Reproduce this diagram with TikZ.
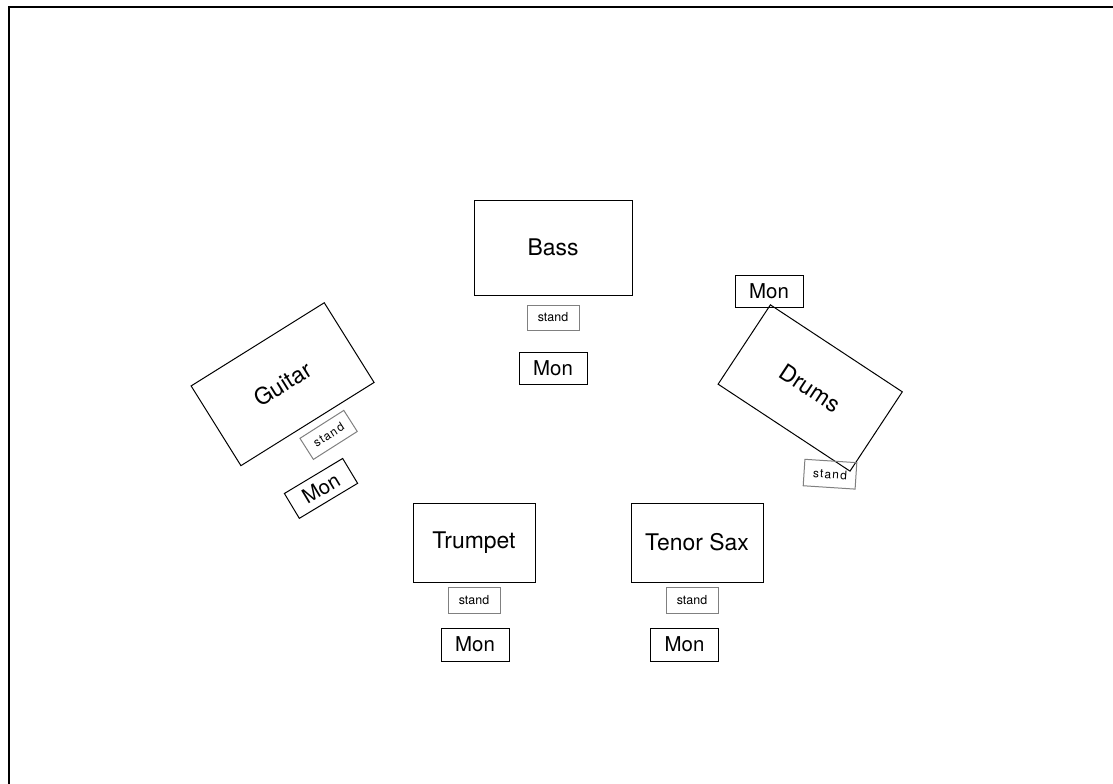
\documentclass[tikz,border=0pt]{standalone}
\usepackage{fontspec}
\setmainfont{TeX Gyre Heros}
\usetikzlibrary{positioning}

\begin{document}
\begin{tikzpicture}[x=1bp, y=-1bp,
    instr/.style={draw, line width=1bp, inner sep=0pt, minimum width=158bp,
      minimum height=95bp, font=\fontsize{23}{27}\selectfont},
    standbox/.style={draw=gray, line width=1bp, inner sep=0pt, minimum width=52bp,
      minimum height=25bp, font=\fontsize{12.5}{15}\selectfont},
    wide/.style={font=\fontsize{12}{15}\selectfont\addfontfeature{LetterSpace=10}},
    mon/.style={draw, line width=1bp, inner sep=0pt, minimum width=68bp,
      minimum height=32bp, font=\fontsize{20.5}{24}\selectfont}]
    \useasboundingbox (0,0) rectangle (1113,784);
    \draw[line width=2.5bp] (9,784) -- (9,7) -- (1113,7);
    % centre
    \node [instr]                          (bass)        at (553,247.5) {Bass};
    \node [standbox]                       (bassstand)   at (553,317.5) {stand};
    \node [mon]                            (bassmon)     at (553,368)   {Mon};
    % front
    \node [instr, minimum width=122bp, minimum height=79bp] (trumpet) at (474,542.5) {Trumpet};
    \node [standbox, minimum height=26bp]  (trumpetstand) at (474,600)  {stand};
    \node [mon, minimum height=33bp]       (trumpetmon)  at (475,644.5) {Mon};
    \node [instr, minimum width=132bp, minimum height=79bp] (sax) at (697,542.5) {Tenor Sax};
    \node [standbox, minimum height=26bp]  (saxstand)    at (692,600)   {stand};
    \node [mon, minimum height=33bp]       (saxmon)      at (684.5,644.5) {Mon};
    % left
    \node [instr, minimum width=157bp, minimum height=94bp, rotate=32] (guitar) at (282.6,384.2) {Guitar};
    \node [standbox, wide, rotate=32.5]    (guitarstand) at (328.6,434.9) {stand};
    \node [mon, minimum height=29bp, rotate=31] (guitarmon) at (321,488.4) {Mon};
    % right
    \node [instr, rotate=-33.4]            (drums)       at (810.2,388) {Drums};
    \node [mon]                            (drumsmon)    at (769,291)   {Mon};
    \node [standbox, wide, minimum height=26.5bp, rotate=-3.7] (drumsstand) at (830,474.2) {stand};
\end{tikzpicture}
\end{document}
